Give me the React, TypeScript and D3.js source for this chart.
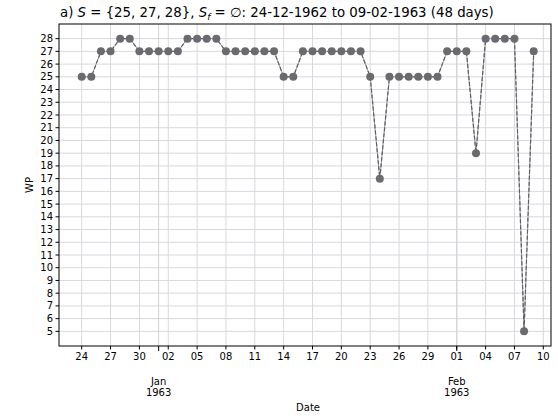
import React from "react";
import * as d3 from "d3";

const startDate = "1962-12-24";
const wpValues = [
  25, 25, 27, 27, 28, 28, 27, 27,
  27, 27, 27, 28, 28, 28, 28, 27, 27, 27, 27, 27, 27, 25, 25, 27, 27, 27, 27, 27, 27, 27,
  25, 17, 25, 25, 25, 25, 25, 25, 27,
  27, 27, 19, 28, 28, 28, 28, 5, 27,
];
const yTicks = d3.range(5, 29);
const xTickDates = [
  "1962-12-24", "1962-12-27", "1962-12-30", "1963-01-02", "1963-01-05", "1963-01-08",
  "1963-01-11", "1963-01-14", "1963-01-17", "1963-01-20", "1963-01-23", "1963-01-26",
  "1963-01-29", "1963-02-01", "1963-02-04", "1963-02-07", "1963-02-10",
];
const monthTicks = [
  { date: "1963-01-01", label: ["Jan", "1963"] },
  { date: "1963-02-01", label: ["Feb", "1963"] },
];

const W = 558, H = 416;
const M = { left: 59, right: 551, top: 24, bottom: 346 };
const FONT = "DejaVu Sans, sans-serif";

const parse = d3.utcParse("%Y-%m-%d");
const day = 86400000;
const t0 = parse(startDate)!;
const data = wpValues.map((v, i) => ({ d: new Date(t0.getTime() + i * day), v }));

export default function App() {
  const first = data[0].d.getTime();
  const last = data[data.length - 1].d.getTime();
  const x = d3
    .scaleUtc()
    .domain([new Date(first - 2.36 * day), new Date(last + 1.8 * day)])
    .range([M.left, M.right]);
  const yMin = d3.min(wpValues)!, yMax = d3.max(wpValues)!;
  const yPad = (yMax - yMin) * 0.05;
  const y = d3.scaleLinear().domain([yMin - yPad, yMax + yPad]).range([M.bottom, M.top]);

  const ticks = xTickDates.map((s) => parse(s)!);
  const fmtDay = d3.utcFormat("%d");

  const line = d3.line<{ d: Date; v: number }>().x((p) => x(p.d)).y((p) => y(p.v));
  const path = line(data)!;

  return (
    <svg width={W} height={H} style={{ display: "block", position: "absolute", left: 0, top: 0 }} fontFamily={FONT}>
      <rect width={W} height={H} fill="#fff" />
      {yTicks.map((t) => (
        <line key={"gy" + t} x1={M.left} x2={M.right} y1={y(t)} y2={y(t)} stroke="#d8d8de" strokeWidth={1} />
      ))}
      {ticks.map((d, i) => (
        <line key={"gx" + i} x1={x(d)} x2={x(d)} y1={M.top} y2={M.bottom} stroke="#d8d8de" strokeWidth={1} />
      ))}
      {monthTicks.map((m, i) => (
        <line key={"gm" + i} x1={x(parse(m.date)!)} x2={x(parse(m.date)!)} y1={M.top} y2={M.bottom} stroke="#d0d0d6" strokeWidth={1} />
      ))}
      <path d={path} fill="none" stroke="#9a9aa0" strokeWidth={1} />
      <path d={path} fill="none" stroke="#5e5e64" strokeWidth={1.2} strokeDasharray="4,2" />
      {data.map((p, i) => (
        <circle key={"c" + i} cx={x(p.d)} cy={y(p.v)} r={4} fill="#6a6a70" />
      ))}
      <rect x={M.left} y={M.top} width={M.right - M.left} height={M.bottom - M.top} fill="none" stroke="#000" strokeWidth={1} />
      {yTicks.map((t) => (
        <g key={"yt" + t}>
          <line x1={M.left - 3.5} x2={M.left} y1={y(t)} y2={y(t)} stroke="#000" />
          <text x={M.left - 6} y={y(t)} dy="0.35em" textAnchor="end" fontSize={10} fill="#000">{t}</text>
        </g>
      ))}
      {ticks.map((d, i) => (
        <g key={"xt" + i}>
          <line x1={x(d)} x2={x(d)} y1={M.bottom} y2={M.bottom + 3.5} stroke="#000" />
          <text x={x(d)} y={M.bottom + 14} textAnchor="middle" fontSize={10} fill="#000">{fmtDay(d)}</text>
        </g>
      ))}
      {monthTicks.map((m, i) => {
        const xx = x(parse(m.date)!);
        return (
          <g key={"mt" + i}>
            <line x1={xx} x2={xx} y1={M.bottom} y2={M.bottom + 5} stroke="#000" />
            <text x={xx} y={M.bottom + 39} textAnchor="middle" fontSize={10} fill="#000">{m.label[0]}</text>
            <text x={xx} y={M.bottom + 50} textAnchor="middle" fontSize={10} fill="#000">{m.label[1]}</text>
          </g>
        );
      })}
      <text x={(M.left + M.right) / 2 + 3} y={M.bottom + 65} textAnchor="middle" fontSize={10} fill="#000">Date</text>
      <text transform={`translate(33,${(M.top + M.bottom) / 2}) rotate(-90)`} textAnchor="middle" fontSize={10} fill="#000">WP</text>
      <text x={60} y={17} textAnchor="start" fontSize={13.3} fill="#000">
        a) <tspan fontStyle="italic">S</tspan> = {"{25, 27, 28}"}, <tspan fontStyle="italic">S</tspan>
        <tspan fontStyle="italic" fontSize={9} dy={3}>f</tspan>
        <tspan dy={-3}> = ∅: 24-12-1962 to 09-02-1963 (48 days)</tspan>
      </text>
    </svg>
  );
}
